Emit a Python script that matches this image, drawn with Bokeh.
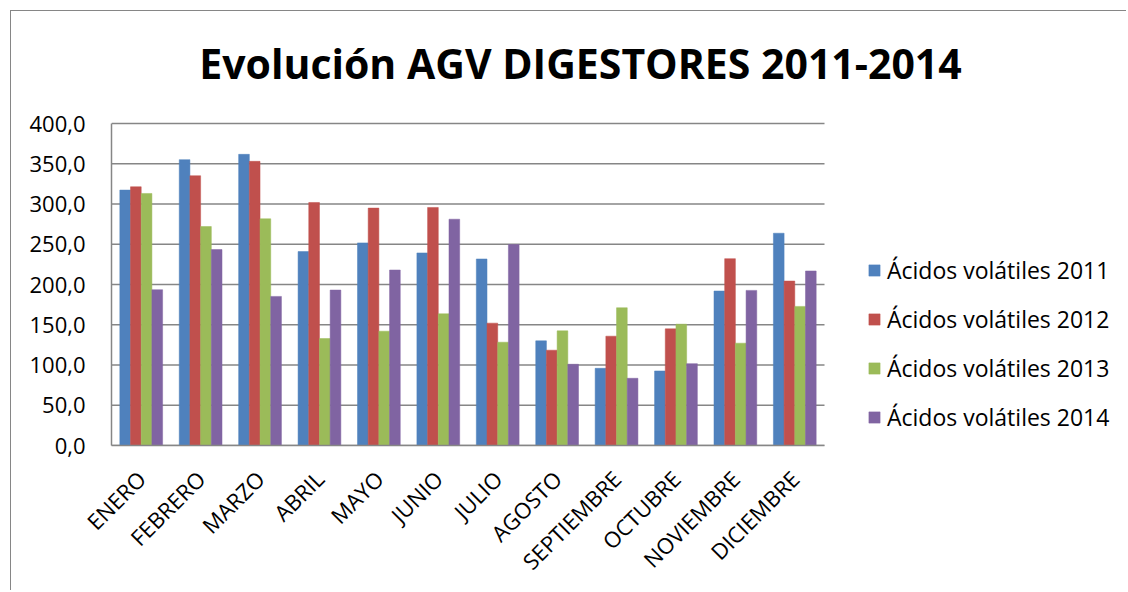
import math
from bokeh.plotting import figure
from bokeh.models import (ColumnDataSource, Range1d, FixedTicker,
                          CustomJSTickFormatter, Legend, LegendItem, Label)
from bokeh.embed import file_html
from bokeh.resources import INLINE

months = ["ENERO", "FEBRERO", "MARZO", "ABRIL", "MAYO", "JUNIO", "JULIO",
          "AGOSTO", "SEPTIEMBRE", "OCTUBRE", "NOVIEMBRE", "DICIEMBRE"]
v2011 = [317.3, 355.1, 361.7, 240.9, 251.7, 239.2, 231.7, 130.0, 95.9, 92.6, 191.9, 263.7]
v2012 = [321.4, 335.1, 353.0, 301.9, 294.9, 295.7, 152.0, 118.4, 135.8, 144.9, 232.1, 204.3]
v2013 = [313.1, 272.0, 281.6, 132.9, 142.0, 163.6, 128.3, 142.4, 171.1, 150.7, 127.1, 172.8]
v2014 = [193.5, 243.4, 185.2, 193.1, 218.0, 281.1, 249.6, 100.9, 83.5, 101.7, 192.7, 216.8]
series_names = ["Ácidos volátiles 2011", "Ácidos volátiles 2012",
                "Ácidos volátiles 2013", "Ácidos volátiles 2014"]
y_ticks = [0, 50, 100, 150, 200, 250, 300, 350, 400]

colors = ["#4F81BD", "#C0504D", "#9BBB59", "#8064A2"]
font = "Open Sans"

n = len(months)
y_max = y_ticks[-1]
centers = [i + 0.5 for i in range(n)]

# layout: plot area spans 713 px for the 12 months and 322 px for 0..400;
# the frame extends further right/up to hold legend and title
W, H = 1116, 580
left = 100
bottom = H - 434
frame_w, frame_h = W - left, H - bottom
x_end = n * frame_w / 713.0
y_end = y_max * frame_h / 322.0

p = figure(x_range=Range1d(0, x_end), y_range=Range1d(0, y_end),
           width=W, height=H, output_backend="svg", toolbar_location=None,
           min_border_left=left, min_border_right=0, min_border_top=0,
           min_border_bottom=bottom, margin=(10, 0, 0, 10),
           styles={"border-left": "1px solid #868686", "border-top": "1px solid #868686"})
p.outline_line_color = None
p.background_fill_color = "white"
p.border_fill_color = "white"
p.xgrid.grid_line_color = None
p.ygrid.grid_line_color = None

# gridlines over the plot area only
p.segment(x0=[0] * len(y_ticks), x1=[n] * len(y_ticks), y0=y_ticks, y1=y_ticks,
          line_color="#868686", line_width=1.5)

bw = 0.18
offsets = [-0.27, -0.09, 0.09, 0.27]
renderers = []
for vals, off, col in zip([v2011, v2012, v2013, v2014], offsets, colors):
    src = ColumnDataSource(data=dict(x=[c + off for c in centers], top=vals))
    r = p.vbar(x="x", top="top", width=bw, bottom=0, source=src,
               fill_color=col, line_color=col, line_width=0.5)
    renderers.append(r)

# y axis
p.yaxis.bounds = (0, y_max)
p.yaxis.ticker = FixedTicker(ticks=y_ticks)
p.yaxis.formatter = CustomJSTickFormatter(code="return tick.toFixed(1).replace('.', ',');")
p.yaxis.major_label_text_font = font
p.yaxis.major_label_text_font_size = "22px"
p.yaxis.major_label_text_color = "black"
p.yaxis.major_tick_in = 0
p.yaxis.major_tick_out = 0
p.yaxis.minor_tick_in = 0
p.yaxis.minor_tick_out = 0
p.yaxis.major_label_standoff = 26
p.yaxis.axis_line_color = "#868686"
p.yaxis.axis_line_width = 1.5

# x axis (categories at half-integer positions)
p.xaxis.bounds = (0, n)
p.xaxis.ticker = FixedTicker(ticks=centers)
p.xaxis.formatter = CustomJSTickFormatter(args=dict(months=months),
                                          code="return months[Math.floor(tick)] || '';")
p.xaxis.major_label_orientation = math.pi / 4
p.xaxis.major_label_text_font = font
p.xaxis.major_label_text_font_size = "22px"
p.xaxis.major_label_text_color = "black"
p.xaxis.major_tick_in = 0
p.xaxis.major_tick_out = 0
p.xaxis.minor_tick_in = 0
p.xaxis.minor_tick_out = 0
p.xaxis.major_label_standoff = 29
p.xaxis.axis_line_color = "#868686"
p.xaxis.axis_line_width = 1.5

# title
title = Label(x=469, y=383, x_units="screen", y_units="screen",
              text="Evolución AGV DIGESTORES 2011-2014", text_align="center",
              text_baseline="middle", text_font=font, text_font_style="bold",
              text_font_size="41px", text_color="black")
p.add_layout(title)

# legend
items = [LegendItem(label=s, renderers=[r]) for s, r in zip(series_names, renderers)]
legend = Legend(items=items, location=(756, 12), orientation="vertical",
                glyph_width=14, glyph_height=14, label_height=22, spacing=17,
                label_standoff=6, padding=0, margin=0,
                label_text_font=font, label_text_font_size="23px",
                label_text_color="black", border_line_color=None,
                background_fill_alpha=0)
p.add_layout(legend)

open("out.html", "w").write(file_html(p, INLINE))
